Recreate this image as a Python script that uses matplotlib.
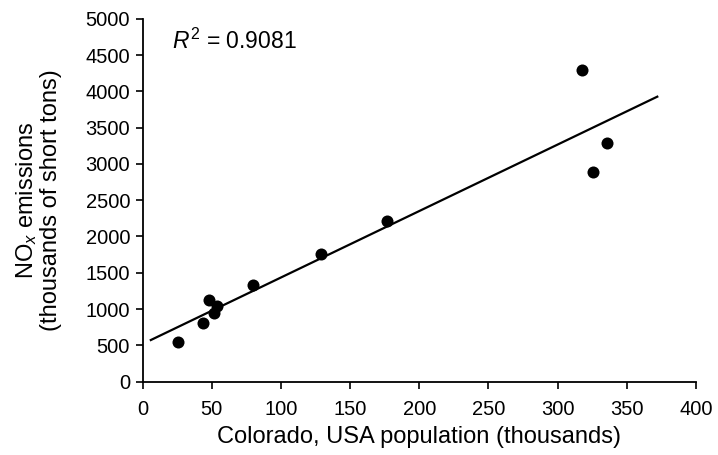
import matplotlib
matplotlib.use("Agg")
import matplotlib.pyplot as plt

plt.rcParams['font.family'] = ['Liberation Sans', 'DejaVu Sans']
plt.rcParams['mathtext.fontset'] = 'custom'
plt.rcParams['mathtext.rm'] = 'Liberation Sans'
plt.rcParams['mathtext.it'] = 'Liberation Sans:italic'

# Data
population = [25.4, 43.5, 48.3, 51.9, 53.8, 80.1, 129.0, 176.9, 317.6, 325.7, 335.4]
nox = [551, 804, 1125, 942, 1047, 1332, 1759, 2213, 4293, 2884, 3292]

# Regression line end points
line_x = [6, 372]
line_y = [574, 3926]

x_ticks = [0, 50, 100, 150, 200, 250, 300, 350, 400]
y_ticks = [0, 500, 1000, 1500, 2000, 2500, 3000, 3500, 4000, 4500, 5000]

fig = plt.figure(figsize=(7.18, 4.55), dpi=100)
ax = fig.add_axes([0.1985, 0.1611, 0.7709, 0.7978])

ax.plot(line_x, line_y, color='black', lw=1.6, zorder=2)
ax.scatter(population, nox, s=75, color='black', zorder=3, linewidths=0)

ax.set_xlim(0, 400)
ax.set_ylim(0, 5000)
ax.set_xticks(x_ticks)
ax.set_yticks(y_ticks)

for s in ['top', 'right']:
    ax.spines[s].set_visible(False)
for s in ['left', 'bottom']:
    ax.spines[s].set_linewidth(1.3)

ax.tick_params(axis='both', direction='out', length=5, width=1.2, labelsize=14.5)
ax.tick_params(axis='x', pad=8.5)
ax.tick_params(axis='y', pad=4)

ax.set_xlabel('Colorado, USA population (thousands)', fontsize=17, labelpad=5)
ax.set_ylabel('NO$_x$ emissions\n(thousands of short tons)', fontsize=17, labelpad=17,
              linespacing=1.05)

ax.text(21, 4690, r'$R^2$ = 0.9081', fontsize=16.5, va='center', ha='left')

fig.savefig('out.png', dpi=100)
